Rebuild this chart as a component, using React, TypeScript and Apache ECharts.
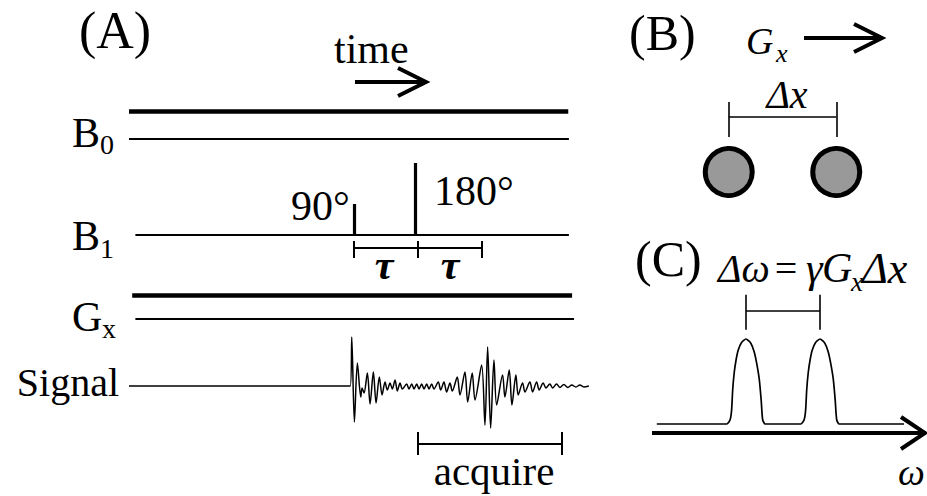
import React, { useEffect, useRef } from "react";
import * as echarts from "echarts";

const SERIF = '"Liberation Serif", "Times New Roman", serif';

// ---------- Panel A: spin-echo pulse sequence (time in ms, 90° pulse at t = 0) ----------
const seqTimeRange = [-35.2, 36.9];
const laneNames = ["B0", "B1", "Gx", "Signal"];
const pulseTimes = [0, 9.6];
const pulseAmps = [31, 72];
const pulseLabels = ["90°", "180°"];
const tauTicks = [0, 10, 20];
const acquireWindow = [10, 32.5];
const signalT = [
  -35.2, -0.6, -0.36, 0.05, 0.52, 1.05, 1.25, 1.56, 2.08, 2.5, 3.02, 3.44, 3.95, 4.38, 4.84, 5.2,
  5.63, 5.98, 6.41, 6.77, 7.19, 7.55, 8.23, 8.59, 9.02, 9.38, 9.8, 10.16, 10.58, 10.94, 11.36, 11.72,
  12.14, 12.5, 13.17, 13.55, 14.06, 14.48, 15.0, 15.36, 16.14, 16.56, 17.34, 17.77, 18.48, 18.91,
  19.95, 20.47, 20.89, 21.36, 21.88, 22.3, 23.23, 23.59, 24.27, 24.69, 25.31, 25.67, 26.36, 26.72,
  27.5, 27.92, 28.55, 28.95, 29.58, 30.0, 30.63, 31.05, 31.67, 32.19, 32.81, 33.44, 34.06, 34.69,
  35.31, 35.94, 36.72,
];
const signalAmp = [
  0, 0, 49, -36, 23, -11, -2, -7, 13, -18, 14, -17, 9, -9, 4, -4, 3, -3, 6, -5, 3, -3, 2, -3, 2, -3,
  2, -3, 2, -3, 2, -3, 2, -3, 4, -4, 4, -6, 3, -5, 9, -9, 14, -16, 13, -14, 21, -39, 39, -42, 26, -19,
  11, -11, 16, -19, 11, -9, 3, -6, 4, -6, 4, -4, 3, -2, 2, -2, 2, -1.5, 1.5, -1.5, 1, -1, 1, -1, 0,
];

// ---------- Panel B: two samples separated by Δx (position in mm) ----------
const samplePositions = [-5, 5];

// ---------- Panel C: spectrum (frequency in units of Δω/2) ----------
const peakCenters = [-1, 1];
const peakShapeOffset = [-0.52, -0.43, -0.39, -0.36, -0.32, -0.27, -0.21, -0.12, 0, 0.13, 0.22, 0.29, 0.36, 0.41, 0.45, 0.52];
const peakShapeAmp = [0, 0.05, 0.16, 0.4, 0.6, 0.75, 0.87, 0.96, 1, 0.95, 0.85, 0.71, 0.52, 0.28, 0.05, 0];
const spectrumRange = [-3.41, 3.27];

// ---------- layout (pixel positions of lanes etc.) ----------
const LANE_Y = { b0Thick: 111, b0Thin: 139, b1: 235, gxThick: 295, gxThin: 318.5 };
const TAU_Y = 248;
const ACQ_Y = 444;

const seg = (x1: number, y1: number, x2: number, y2: number, w: number) => ({
  coords: [[x1, y1], [x2, y2]],
  lineStyle: { width: w, color: "#000", opacity: 1 },
});

const txt = (text: string, x: number, y: number, size: number, opts: any = {}) => ({
  type: "text",
  x,
  y,
  silent: true,
  style: {
    text,
    font: `${opts.style || ""} ${opts.weight || ""} ${size}px ${SERIF}`,
    fill: "#000",
    align: opts.align || "left",
    verticalAlign: "middle",
  },
});

const poly = (points: number[][], w: number) => ({
  type: "polyline",
  silent: true,
  shape: { points },
  style: { stroke: "#000", lineWidth: w, fill: null, lineJoin: "miter", lineCap: "butt" },
});

export default function App() {
  const ref = useRef<HTMLDivElement>(null);

  useEffect(() => {
    document.body.style.margin = "0";
    const chart = echarts.init(ref.current!, null, { renderer: "svg" });

    const seqLines = [
      seg(-35.2, LANE_Y.b0Thick, 33.5, LANE_Y.b0Thick, 4.5),
      seg(-35.2, LANE_Y.b0Thin, 33.6, LANE_Y.b0Thin, 1.8),
      seg(-34.2, LANE_Y.b1, 33.6, LANE_Y.b1, 1.8),
      seg(-34.7, LANE_Y.gxThick, 34.1, LANE_Y.gxThick, 4.5),
      seg(-34.2, LANE_Y.gxThin, 34.4, LANE_Y.gxThin, 1.8),
      ...pulseTimes.map((t, i) => seg(t, LANE_Y.b1 + 1, t, LANE_Y.b1 - pulseAmps[i], 3.2)),
      seg(tauTicks[0], TAU_Y, tauTicks[tauTicks.length - 1], TAU_Y, 2),
      ...tauTicks.map((t) => seg(t, TAU_Y - 7, t, TAU_Y + 10, 2)),
      seg(acquireWindow[0], ACQ_Y, acquireWindow[1], ACQ_Y, 2),
      ...acquireWindow.map((t) => seg(t, ACQ_Y - 12, t, ACQ_Y + 11, 2)),
    ];

    const spectrumData: number[][] = [
      [spectrumRange[0], 0],
      ...peakCenters.flatMap((c) => peakShapeOffset.map((d, i) => [c + d, peakShapeAmp[i]])),
      [spectrumRange[1], 0],
    ];

    const hiddenAxis = (gridIndex: number, min: number, max: number, inverse = false) => ({
      type: "value",
      gridIndex,
      min,
      max,
      inverse,
      show: false,
    });

    chart.setOption({
      animation: false,
      backgroundColor: "#fff",
      grid: [
        { left: 129, top: 0, width: 461, height: 496 }, // sequence lanes
        { left: 129, top: 336, width: 461, height: 100 }, // signal
        { left: 675, top: 0, width: 215, height: 496 }, // samples
        { left: 652, top: 288, width: 275, height: 153 }, // spectrum
      ],
      xAxis: [
        hiddenAxis(0, seqTimeRange[0], seqTimeRange[1]),
        hiddenAxis(1, seqTimeRange[0], seqTimeRange[1]),
        hiddenAxis(2, -10, 10),
        hiddenAxis(3, -3.54, 3.89),
      ],
      yAxis: [
        hiddenAxis(0, 0, 496, true),
        hiddenAxis(1, -50, 50),
        hiddenAxis(2, 0, 496, true),
        hiddenAxis(3, -0.2, 1.6),
      ],
      series: [
        {
          name: "sequence",
          type: "lines",
          coordinateSystem: "cartesian2d",
          xAxisIndex: 0,
          yAxisIndex: 0,
          silent: true,
          lineStyle: { color: "#000", opacity: 1, curveness: 0 },
          data: seqLines,
        },
        {
          name: laneNames[3],
          type: "line",
          xAxisIndex: 1,
          yAxisIndex: 1,
          silent: true,
          symbol: "none",
          smooth: 0.3,
          lineStyle: { color: "#000", width: 1.5 },
          data: signalT.map((t, i) => [t, signalAmp[i]]),
        },
        {
          name: "samples",
          type: "scatter",
          xAxisIndex: 2,
          yAxisIndex: 2,
          silent: true,
          symbol: "circle",
          symbolSize: 47,
          itemStyle: { color: "#999999", borderColor: "#000", borderWidth: 5, opacity: 1 },
          data: samplePositions.map((p) => [p, 172]),
        },
        {
          name: "dx",
          type: "lines",
          coordinateSystem: "cartesian2d",
          xAxisIndex: 2,
          yAxisIndex: 2,
          silent: true,
          lineStyle: { color: "#000", opacity: 1 },
          data: [
            seg(samplePositions[0], 117, samplePositions[1], 117, 1.6),
            ...samplePositions.map((p) => seg(p, 102, p, 137, 1.6)),
          ],
        },
        {
          name: "spectrum",
          type: "line",
          xAxisIndex: 3,
          yAxisIndex: 3,
          silent: true,
          symbol: "none",
          smooth: 0.2,
          lineStyle: { color: "#000", width: 1.7 },
          data: spectrumData,
        },
        {
          name: "spectrumAxis",
          type: "lines",
          coordinateSystem: "cartesian2d",
          xAxisIndex: 3,
          yAxisIndex: 3,
          silent: true,
          lineStyle: { color: "#000", opacity: 1 },
          data: [
            seg(-3.54, -0.106, 3.86, -0.106, 4),
            seg(peakCenters[0], 1.33, peakCenters[1], 1.33, 1.6),
            ...peakCenters.map((c) => seg(c, 1.11, c, 1.52, 1.6)),
          ],
        },
      ],
      graphic: [
        // Panel A texts
        txt("(A)", 79, 30, 52),
        txt("time", 334, 49, 42),
        poly([[355, 82], [425, 82]], 4),
        poly([[398, 68], [426, 82], [398, 96]], 4),
        txt("B", 72, 133, 42),
        txt("0", 100, 144, 28),
        txt("B", 72, 236, 42),
        txt("1", 100, 248, 28),
        txt("G", 72, 317, 42),
        txt("x", 102, 328, 28),
        txt("Signal", 119, 382, 40, { align: "right" }),
        txt(pulseLabels[0], 291, 206, 42),
        txt(pulseLabels[1], 434, 191, 42),
        txt("τ", 384, 265, 42, { align: "center", style: "italic", weight: "bold" }),
        txt("τ", 450, 265, 42, { align: "center", style: "italic", weight: "bold" }),
        txt("acquire", 494, 471, 41, { align: "center" }),
        // Panel B texts
        txt("(B)", 629, 33, 50),
        txt("G", 746, 41, 38, { style: "italic" }),
        txt("x", 776, 53, 26, { style: "italic" }),
        poly([[804, 38], [881, 38]], 4),
        poly([[854, 24], [882, 38], [854, 52]], 4),
        txt("Δx", 787, 94, 40, { align: "center", style: "italic" }),
        // Panel C texts
        txt("(C)", 635, 259, 50),
        txt("Δω", 718, 268, 40, { style: "italic" }),
        txt("=", 786, 268, 40, { align: "center" }),
        txt("γ", 806, 268, 42, { style: "italic" }),
        txt("G", 822, 268, 42, { style: "italic" }),
        txt("x", 851, 282, 27, { style: "italic" }),
        txt("Δx", 862, 268, 44, { style: "italic" }),
        poly([[901, 417], [925, 433], [901, 449]], 4),
        txt("ω", 898, 472, 38, { style: "italic" }),
      ],
    });

    return () => chart.dispose();
  }, []);

  return <div ref={ref} style={{ width: 927, height: 496 }} />;
}
